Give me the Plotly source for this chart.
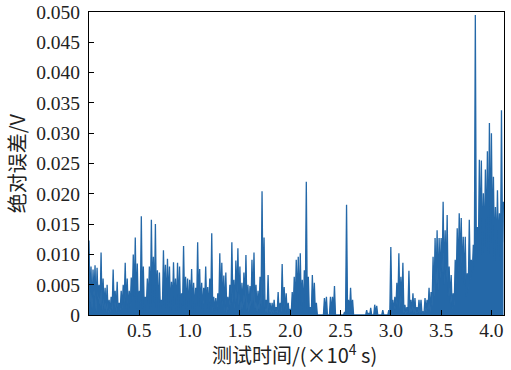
import numpy as np
import plotly.graph_objects as go

peaks_mv = [
    12.3, 8.0, 7.5, 8.2, 7.8, 5.0, 10.3, 6.0, 4.5, 5.0,
    2.5, 3.0, 7.5, 4.0, 5.5, 2.0, 4.0, 5.0, 8.6, 6.0,
    4.0, 6.2, 10.0, 12.8, 8.5, 4.0, 16.3, 8.0, 3.0, 6.0,
    8.0, 15.7, 9.6, 15.0, 7.4, 7.0, 2.5, 10.7, 8.3, 9.3,
    8.0, 5.5, 8.7, 6.0, 8.6, 8.0, 3.6, 11.4, 6.3, 6.0,
    5.8, 7.6, 5.3, 4.5, 12.0, 7.6, 5.3, 4.5, 8.0, 4.6,
    6.0, 13.5, 3.0, 2.8, 3.6, 10.2, 8.6, 6.5, 7.0, 3.0,
    5.0, 12.0, 5.8, 9.0, 11.0, 8.0, 5.3, 7.0, 9.9, 5.0,
    4.8, 9.1, 10.3, 5.0, 4.0, 6.3, 20.4, 12.8, 2.5, 6.6,
    2.0, 2.0, 2.5, 1.3, 3.8, 2.0, 8.4, 4.6, 3.6, 2.0,
    1.0, 3.8, 6.3, 9.1, 9.6, 10.2, 5.8, 7.4, 22.0, 6.3,
    1.3, 6.6, 5.3, 2.0, 0.0, 0.0, 0.0, 2.8, 3.0, 0.0,
    3.0, 3.0, 4.8, 0.0, 0.0, 0.0, 0.0, 0.5, 18.2, 2.5,
    4.5, 2.5, 0.0, 0.0, 0.0, 0.0, 0.0, 0.0, 0.8, 0.3,
    1.2, 0.0, 1.7, 1.5, 0.0, 0.0, 0.8, 0.0, 0.0, 0.8,
    11.2, 2.5, 3.0, 5.3, 10.2, 6.3, 8.6, 1.7, 1.3, 7.3,
    2.5, 3.6, 2.8, 1.3, 2.5, 2.5, 0.5, 2.8, 2.5, 4.5,
    3.8, 9.6, 12.7, 14.0, 12.7, 12.7, 18.7, 14.0, 16.5, 8.0,
    6.6, 3.6, 9.1, 14.3, 16.8, 16.0, 12.9, 12.9, 6.9, 15.7,
    9.1, 11.6, 49.5, 14.5, 25.6, 25.5, 20.1, 24.0, 27.0, 31.7,
    30.0, 22.8, 17.8, 20.6, 16.8, 33.8, 18.7,
]

# Local minima (mV) between consecutive peaks
troughs_mv = [
    2.0, 1.0, 3.0, 0.5, 2.5, 1.5, 0.8, 1.0, 0.5, 0.3,
    0.5, 0.8, 1.5, 0.5, 0.3, 0.8, 1.2, 2.0, 1.0, 0.5,
    1.5, 2.5, 3.0, 1.0, 0.8, 2.0, 1.0, 0.5, 1.5, 2.0,
    1.0, 3.0, 2.0, 1.0, 0.5, 0.5, 1.5, 2.5, 1.0, 2.0,
    0.8, 1.5, 2.0, 0.8, 1.0, 0.5, 1.5, 2.0, 1.0, 0.5,
    2.0, 1.0, 0.5, 1.5, 2.0, 1.0, 0.5, 2.0, 1.0, 0.5,
    1.5, 0.5, 0.8, 0.5, 1.0, 2.0, 1.5, 0.5, 0.3, 0.8,
    1.5, 2.0, 1.0, 2.5, 1.5, 0.5, 1.0, 2.0, 0.8, 0.5,
    1.5, 2.0, 1.0, 0.5, 0.8, 1.5, 3.0, 0.5, 0.3, 0.5,
    0.2, 0.3, 0.5, 0.3, 0.2, 0.5, 1.0, 0.5, 0.3, 0.2,
    0.3, 0.8, 1.5, 2.0, 1.0, 1.5, 0.5, 2.0, 1.0, 0.2,
    0.3, 1.0, 0.3, 0.0, 0.0, 0.0, 0.0, 0.5, 0.0, 0.0,
    0.5, 0.8, 0.0, 0.0, 0.0, 0.0, 0.0, 0.0, 0.3, 0.5,
    0.5, 0.0, 0.0, 0.0, 0.0, 0.0, 0.0, 0.0, 0.0, 0.0,
    0.0, 0.0, 0.3, 0.0, 0.0, 0.0, 0.0, 0.0, 0.0, 0.3,
    2.0, 0.5, 1.0, 1.5, 1.0, 2.0, 0.3, 0.2, 0.5, 0.3,
    0.5, 0.3, 0.2, 0.3, 0.2, 0.2, 0.3, 0.5, 0.8, 0.5,
    1.5, 3.0, 5.0, 4.0, 6.0, 7.0, 5.0, 6.0, 3.0, 2.0,
    1.0, 1.5, 5.0, 7.0, 8.0, 6.0, 5.0, 3.0, 4.0, 6.0,
    7.0, 8.0, 9.0, 10.0, 12.0, 10.0, 11.0, 12.0, 10.0, 12.0,
    12.0, 9.0, 10.0, 11.0, 9.0, 12.0,
]

sample_step = 0.02  # x10^4 s between peaks
y_tickvals = [0, 0.005, 0.010, 0.015, 0.020, 0.025, 0.030, 0.035, 0.040, 0.045, 0.050]
y_ticktext = ["0", "0.005", "0.010", "0.015", "0.020", "0.025", "0.030",
              "0.035", "0.040", "0.045", "0.050"]
x_tickvals = [0.5, 1.0, 1.5, 2.0, 2.5, 3.0, 3.5, 4.0]
x_ticktext = ["0.5", "1.0", "1.5", "2.0", "2.5", "3.0", "3.5", "4.0"]
x_title = "测试时间/(×10<sup>4</sup> s)"
y_title = "绝对误差/V"

# interleave peaks and troughs into one time series
t, v = [], []
for k, p in enumerate(peaks_mv):
    t.append(k * sample_step)
    v.append(p / 1000.0)
    if k < len(troughs_mv):
        t.append(k * sample_step + sample_step / 2)
        v.append(troughs_mv[k] / 1000.0)

serif = "Liberation Serif"
cjk = "Noto Sans CJK SC"
txt = "#222222"
blue = "#2468a8"

fig = go.Figure()
fig.add_trace(go.Scatter(
    x=t, y=v, mode="lines",
    line=dict(color=blue, width=1.3),
    fill="tozeroy", fillcolor=blue,
    showlegend=False, hoverinfo="skip",
))

fig.update_layout(
    width=511, height=370,
    margin=dict(l=89, r=7, t=12, b=55, autoexpand=False),
    paper_bgcolor="white", plot_bgcolor="white",
    font=dict(family=serif, color=txt, size=19),
)
fig.update_xaxes(
    range=[0, 4.125], tickmode="array", tickvals=x_tickvals, ticktext=x_ticktext,
    ticks="inside", ticklen=5, tickcolor="black", tickwidth=1,
    showline=True, linecolor="black", linewidth=1, mirror=True,
    showgrid=False, zeroline=False, automargin=False,
    tickfont=dict(family=serif, size=19.5, color=txt),
    ticklabelstandoff=-2,
)
fig.update_yaxes(
    range=[0, 0.05], tickmode="array", tickvals=y_tickvals, ticktext=y_ticktext,
    ticks="inside", ticklen=5, tickcolor="black", tickwidth=1,
    showline=True, linecolor="black", linewidth=1, mirror=True,
    showgrid=False, zeroline=False, automargin=False,
    tickfont=dict(family=serif, size=19.5, color=txt),
    ticklabelstandoff=4,
)
fig.add_annotation(
    text=x_title, xref="paper", yref="paper", x=0.495, y=-0.128,
    xanchor="center", yanchor="middle", showarrow=False,
    font=dict(family=cjk, size=20, color=txt),
)
fig.add_annotation(
    text=y_title, xref="paper", yref="paper", x=-0.174, y=0.5,
    xanchor="center", yanchor="middle", textangle=-90, showarrow=False,
    font=dict(family=cjk, size=20, color=txt),
)

fig.write_html("out.html", config={"displayModeBar": False},
               post_script=["document.body.style.margin='0px';"])
